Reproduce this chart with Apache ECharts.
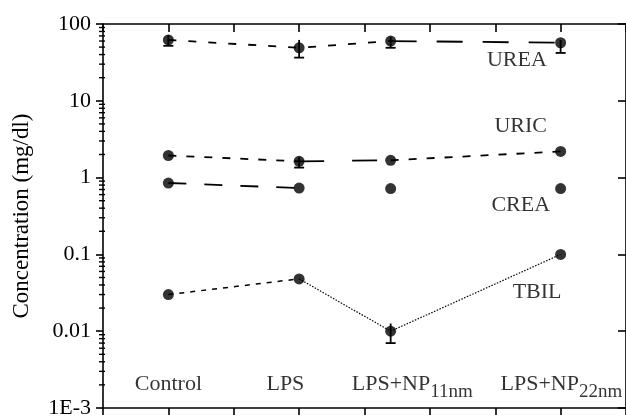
<!DOCTYPE html>
<html>
<head>
<meta charset="utf-8">
<script src="https://cdn.jsdelivr.net/npm/echarts@6/dist/echarts.min.js"></script>
<style>
  html, body { margin: 0; padding: 0; background: #fff; }
  #chart { width: 626px; height: 419px; }
</style>
</head>
<body>
<div id="chart"></div>
<script>
// groups along x (value axis, ticks every 1)
var categories = ['Control', 'LPS', 'LPS+NP11nm', 'LPS+NP22nm'];
var xPos = [0, 2, 3.4, 6];
// mean concentrations (mg/dl)
var urea = [62, 49, 60, 57];
var uric = [1.94, 1.63, 1.68, 2.19];
var crea = [0.85, 0.73, 0.72, 0.72];
var tbil = [0.030, 0.048, 0.010, 0.10];
// error bars [low, high]
var ureaErr = [[52, 72], [36.5, 62], [49, 68], [42, 62]];
var uricErr = [null, [1.35, 1.83], null, null];
var tbilErr = [null, null, [0.007, 0.0126], null];
var yTickLabels = { '0.001': '1E-3', '0.01': '0.01', '0.1': '0.1', '1': '1', '10': '10', '100': '100' };

var FONT = 'Liberation Serif';
var INK = '#000';

// log minor ticks 2..9 in every decade
var minorTicks = [];
[0.001, 0.01, 0.1, 1, 10].forEach(function (d) {
  for (var k = 2; k <= 9; k++) minorTicks.push([-1, d * k]);
});

function seg(vals, i0, i1, dash, width) {
  var d = [];
  for (var i = i0; i <= i1; i++) d.push([xPos[i], vals[i]]);
  return {
    type: 'line', data: d, symbol: 'none', silent: true, z: 2,
    lineStyle: { color: INK, width: width || 1.8, type: dash }
  };
}
function dots(vals) {
  return {
    type: 'scatter', symbol: 'circle', symbolSize: 11, z: 5, silent: true,
    itemStyle: { color: INK },
    data: vals.map(function (v, i) { return [xPos[i], v]; })
  };
}
function errData(errs) {
  var out = [];
  errs.forEach(function (e, i) { if (e) out.push([xPos[i], e[0], e[1]]); });
  return out;
}
var allErr = errData(ureaErr).concat(errData(uricErr)).concat(errData(tbilErr));

var axisLine = { show: true, onZero: false, lineStyle: { color: INK, width: 1.6 } };

var chart = echarts.init(document.getElementById('chart'));
chart.setOption({
  animation: false,
  backgroundColor: '#fff',
  grid: { left: 103, top: 24, right: -7, bottom: 7 },
  xAxis: [{
    type: 'value', min: -1, max: 7, interval: 1, position: 'bottom',
    axisLine: axisLine,
    axisTick: { show: true, inside: false, length: 7, lineStyle: { color: INK, width: 1.6 } },
    axisLabel: { show: false }, splitLine: { show: false }
  }, {
    type: 'value', min: -1, max: 7, interval: 1, position: 'top',
    axisLine: axisLine,
    axisTick: { show: true, inside: true, length: 8, lineStyle: { color: INK, width: 1.6 } },
    axisLabel: { show: false }, splitLine: { show: false }
  }],
  yAxis: [{
    type: 'log', logBase: 10, min: 0.001, max: 100, position: 'left',
    name: 'Concentration (mg/dl)', nameLocation: 'middle', nameGap: 70, nameRotate: 90,
    nameTextStyle: { fontFamily: FONT, fontSize: 23, color: INK },
    axisLine: axisLine,
    axisTick: { show: true, inside: false, length: 7, lineStyle: { color: INK, width: 1.6 } },
    axisLabel: {
      fontFamily: FONT, fontSize: 22, color: INK, margin: 12,
      formatter: function (v) { return yTickLabels[String(v)] || ''; }
    },
    splitLine: { show: false }
  }, {
    type: 'log', logBase: 10, min: 0.001, max: 100, position: 'right',
    axisLine: axisLine,
    axisTick: { show: true, inside: true, length: 8, lineStyle: { color: INK, width: 1.6 } },
    axisLabel: { show: false }, splitLine: { show: false }
  }],
  series: [
    // minor log ticks on left axis
    {
      type: 'custom', silent: true, clip: false, data: minorTicks,
      renderItem: function (params, api) {
        var p = api.coord([api.value(0), api.value(1)]);
        return { type: 'line', shape: { x1: p[0] - 4, y1: p[1], x2: p[0] + 2, y2: p[1] },
                 style: { stroke: INK, lineWidth: 1.4 } };
      }
    },
    // UREA
    seg(urea, 0, 2, [8, 12]),
    seg(urea, 2, 3, [26, 20]),
    // URIC
    seg(uric, 0, 1, [8, 10]),
    seg(uric, 1, 2, [25, 28]),
    seg(uric, 2, 3, [8, 10]),
    // CREA
    seg(crea, 0, 1, [18, 18]),
    // TBIL
    seg(tbil, 0, 1, [5, 6], 1.5),
    seg(tbil, 1, 3, [1.5, 1.5], 1.2),
    dots(urea), dots(uric), dots(crea), dots(tbil),
    // error bars
    {
      type: 'custom', silent: true, z: 4, data: allErr,
      renderItem: function (params, api) {
        var lo = api.coord([api.value(0), api.value(1)]);
        var hi = api.coord([api.value(0), api.value(2)]);
        var st = { stroke: INK, lineWidth: 1.8 };
        return { type: 'group', children: [
          { type: 'line', shape: { x1: lo[0], y1: lo[1], x2: hi[0], y2: hi[1] }, style: st },
          { type: 'line', shape: { x1: lo[0] - 5, y1: lo[1], x2: lo[0] + 5, y2: lo[1] }, style: st }
        ] };
      }
    },
    // text annotations
    {
      type: 'scatter', symbolSize: 0, silent: true, z: 6,
      data: [
        { value: [5.33, 34], label: { formatter: 'UREA' } },
        { value: [5.39, 4.7], label: { formatter: 'URIC' } },
        { value: [5.39, 0.44], label: { formatter: 'CREA' } },
        { value: [5.64, 0.0325], label: { formatter: 'TBIL' } },
        { value: [0, 0.00207], label: { formatter: 'Control' } },
        { value: [1.79, 0.00207], label: { formatter: 'LPS' } },
        { value: [3.73, 0.00207], label: { formatter: 'LPS+NP{s|11nm}' } },
        { value: [5.08, 0.00207], label: { formatter: 'LPS+NP{s|22nm}', align: 'left' } }
      ],
      label: {
        show: true, position: 'inside', fontFamily: FONT, fontSize: 22, color: INK,
        rich: { s: { fontFamily: FONT, fontSize: 19, color: INK, padding: [17, 0, 0, 0] } }
      }
    }
  ]
});
</script>
</body>
</html>
